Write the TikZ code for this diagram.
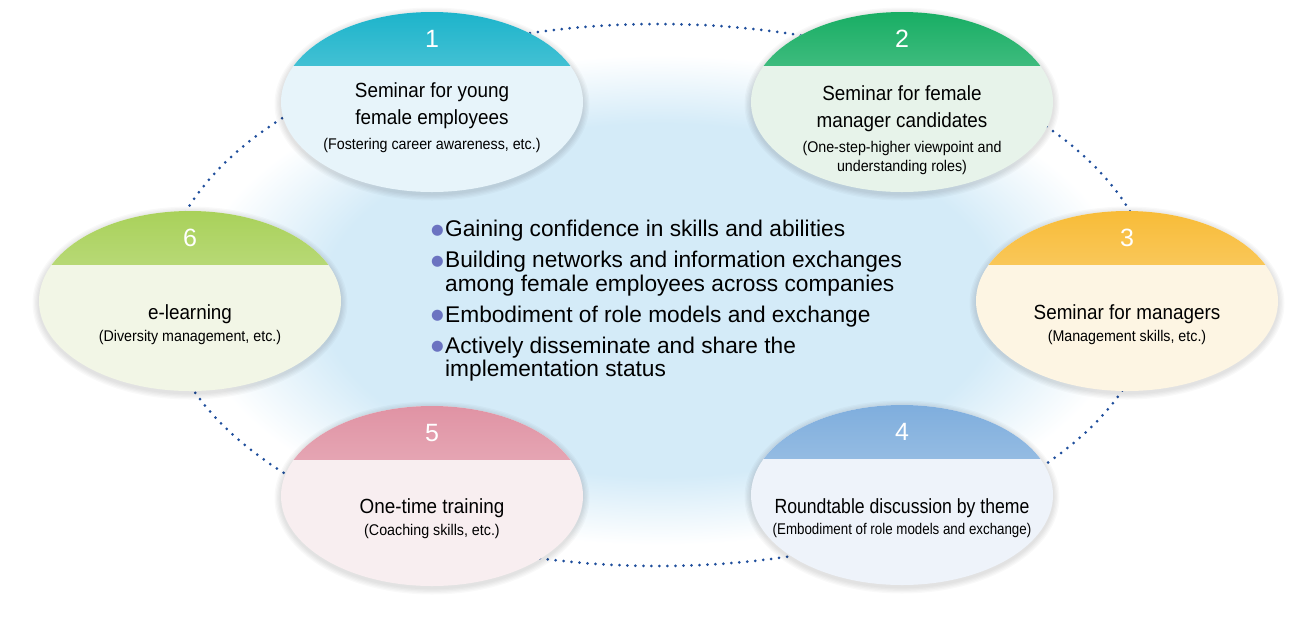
\documentclass[tikz,border=0pt]{standalone}
\usepackage{fontspec}
\setmainfont{Liberation Sans}
\newfontfamily\narrowfont[FakeStretch=0.92]{Liberation Sans}
\newfontfamily\tightfont[FakeStretch=0.86]{Liberation Sans}
\newfontfamily\dotfont{DejaVu Sans}
\usepackage{xcolor}
\usetikzlibrary{shapes.geometric}
\definecolor{glowblue}{HTML}{D4EBF8}
\definecolor{ringblue}{HTML}{1F4E9C}
\definecolor{dotblue}{HTML}{6B73C1}
\definecolor{capY}{HTML}{1DB4CB}
\definecolor{bodyY}{HTML}{E7F4FA}
\definecolor{capC}{HTML}{18AE64}
\definecolor{bodyC}{HTML}{E7F3EA}
\definecolor{capM}{HTML}{F8BC38}
\definecolor{bodyM}{HTML}{FDF5E3}
\definecolor{capR}{HTML}{7FAEDD}
\definecolor{bodyR}{HTML}{EEF3FA}
\definecolor{capO}{HTML}{E093A4}
\definecolor{bodyO}{HTML}{F8EEF0}
\definecolor{capE}{HTML}{A9D15A}
\definecolor{bodyE}{HTML}{F2F6E6}
\pgfdeclarelayer{background}
\pgfsetlayers{background,main}
\pgfdeclareradialshading{glow}{\pgfpoint{0bp}{0bp}}{color(0bp)=(glowblue); color(18bp)=(glowblue); color(25bp)=(white); color(50bp)=(white)}
\tikzset{stage/.style 2 args={ellipse,minimum width=302pt,minimum height=180pt,inner sep=0pt,fill=#2,
		path picture={\shade[top color=#1,middle color=#1!90!white,bottom color=#1!45!white]
			(path picture bounding box.north west) rectangle ([yshift=-53pt]path picture bounding box.north east);}},
	stagenum/.style={text=white,inner sep=0pt,font=\fontsize{25}{25}\selectfont},
	stagetext/.style={text width=296pt,align=flush center,inner sep=0pt,anchor=base,
		font=\narrowfont\fontsize{20.5}{27}\selectfont},
	goals/.style={text width=500pt,align=flush left,inner sep=0pt,anchor=base west,
		font=\fontsize{22.7}{23.5}\selectfont},
	ringline/.style={ringblue,line width=3pt,line cap=round,dash pattern=on 0pt off 8pt}}
\newcommand\subline[1]{{\fontsize{15.5}{19}\selectfont #1}}
\newcommand\goal{\hangindent=14pt\hangafter=1\noindent
	\makebox[14pt][l]{\raisebox{2.5pt}{\textcolor{dotblue}{\dotfont\fontsize{14.5}{15}\selectfont ●}}}}

\begin{document}
\begin{tikzpicture}[x=1pt,y=1pt]
		\useasboundingbox (0,0) rectangle (1307,-625);
		\begin{scope}
			\node[stage={capY}{bodyY}] (Y) at (432,-102) {};
			\node[stage={capC}{bodyC}] (C) at (902,-102) {};
			\node[stage={capM}{bodyM}] (M) at (1127,-301) {};
			\node[stage={capR}{bodyR}] (R) at (902,-495) {};
			\node[stage={capO}{bodyO}] (O) at (432,-496) {};
			\node[stage={capE}{bodyE}] (E) at (190,-301) {};
		\end{scope}
		% numbers in the caps
		\begin{scope}[every node/.style={stagenum}]
			\node (nY) at ([yshift=63pt]Y.center) {1};
			\node (nC) at ([yshift=63pt]C.center) {2};
			\node (nM) at ([yshift=63pt]M.center) {3};
			\node (nR) at ([yshift=63pt]R.center) {4};
			\node (nO) at ([yshift=63pt]O.center) {5};
			\node (nE) at ([yshift=63pt]E.center) {6};
		\end{scope}
		\begin{scope}[every node/.style={stagetext}]
			\node (tY) at ([yshift=4.7pt]Y.center) {Seminar for young\\female employees\\[-2pt]\subline{(Fostering career awareness, etc.)}};
			\node (tC) at ([yshift=2pt]C.center) {Seminar for female\\manager candidates\\[-2pt]\subline{(One-step-higher viewpoint and}\\[-8pt]\subline{understanding roles)}};
			\node (tM) at ([yshift=-18pt]M.center) {Seminar for managers\\[-5pt]\subline{(Management skills, etc.)}};
			\node[font=\tightfont\fontsize{20.5}{27}\selectfont] (tR) at ([yshift=-18.3pt]R.center) {Roundtable discussion by theme\\[-6pt]\subline{(Embodiment of role models and exchange)}};
			\node (tO) at ([yshift=-17.3pt]O.center) {One-time training\\[-5pt]\subline{(Coaching skills, etc.)}};
			\node (tE) at ([yshift=-18pt]E.center) {e-learning\\[-5pt]\subline{(Diversity management, etc.)}};
		\end{scope}
		\node[goals] (G) at (431,-236.5) {\parskip=7.5pt
			\goal Gaining confidence in skills and abilities\par
			\goal Building networks and information exchanges\newline among female employees across companies\par
			\goal Embodiment of role models and exchange\par
			\goal Actively disseminate and share the\newline implementation status\par};
		\begin{pgfonlayer}{background}
			\coordinate (hub) at (658,-295);
			\shade[shading=glow] (660,-300) ellipse [x radius=470,y radius=245];
			\draw[ringline] (hub) ellipse [x radius=496,y radius=271];
			% soft shadow under each stage
			\foreach \s in {Y,C,M,R,O,E}
				\foreach \k in {1,...,5}
					\fill[black,opacity=0.025] ([yshift=-2pt]\s.center) ellipse [x radius=151+1.3*\k,y radius=90+1.3*\k];
		\end{pgfonlayer}
	\end{tikzpicture}
\end{document}
